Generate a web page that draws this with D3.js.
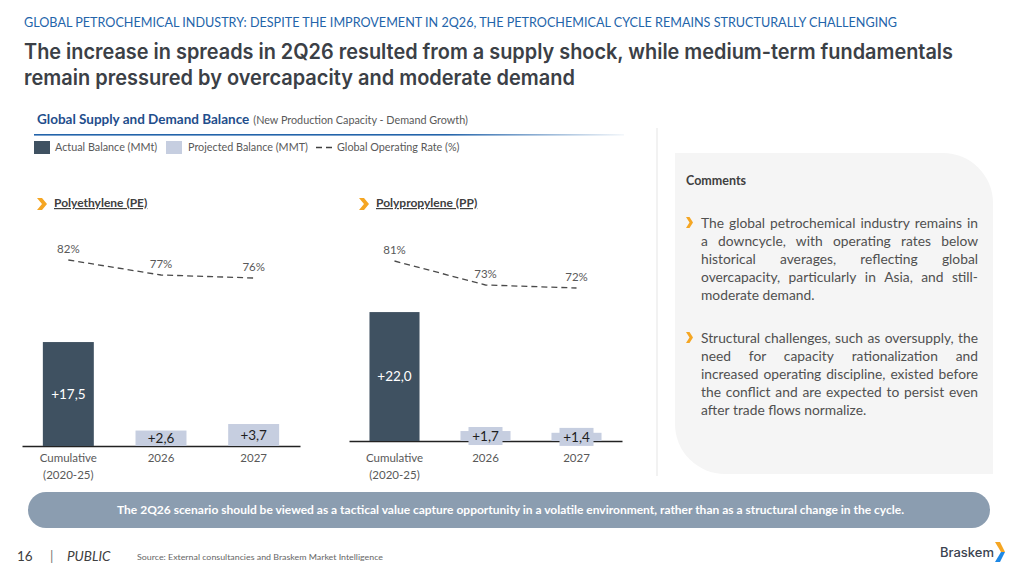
<!DOCTYPE html>
<html>
<head>
<meta charset="utf-8">
<script src="https://cdn.jsdelivr.net/npm/d3@7"></script>
<style>
  body { margin: 0; background: #fff; }
  svg { display: block; font-family: Lato, "Open Sans", sans-serif; }
</style>
</head>
<body>
<div id="chart"></div>
<script>
// chart values
var categories = ["Cumulative|(2020-25)", "2026", "2027"];
var barKinds = ["actual", "projected", "projected"];
var peBalance = [17.5, 2.6, 3.7];
var ppBalance = [22.0, 1.7, 1.4];
var peRate = [82, 77, 76];
var ppRate = [81, 73, 72];
var legendLabels = ["Actual Balance (MMt)", "Projected Balance (MMT)", "Global Operating Rate (%)"];

var comments = [
    ["The global petrochemical industry remains in",
     "a downcycle, with operating rates below",
     "historical averages, reflecting global",
     "overcapacity, particularly in Asia, and still-",
     "moderate demand."],
    ["Structural challenges, such as oversupply, the",
     "need for capacity rationalization and",
     "increased operating discipline, existed before",
     "the conflict and are expected to persist even",
     "after trade flows normalize."]
];

var W = 1019, H = 573;
var colors = {actual: "#3f5161", projected: "#c6cee0", text: "#404040", grey: "#595959", blue: "#1f4e8c"};
var fmt = function(v) { return "+" + d3.format(".1f")(v).replace(".", ","); };

var svg = d3.select("#chart").append("svg").attr("width", W).attr("height", H);

// ---- header
svg.append("text")
    .attr("x", 24).attr("y", 27)
    .attr("font-size", 13).attr("fill", "#2364aa")
    .attr("textLength", 873).attr("lengthAdjust", "spacingAndGlyphs")
    .text("GLOBAL PETROCHEMICAL INDUSTRY: DESPITE THE IMPROVEMENT IN 2Q26, THE PETROCHEMICAL CYCLE REMAINS STRUCTURALLY CHALLENGING");

var titleLines = [
    {t: "The increase in spreads in 2Q26 resulted from a supply shock, while medium-term fundamentals", y: 59, w: 929},
    {t: "remain pressured by overcapacity and moderate demand", y: 85, w: 551}
];
svg.selectAll(".title").data(titleLines).enter().append("text")
    .attr("class", "title")
    .attr("x", 24).attr("y", function(d) { return d.y; })
    .attr("font-family", "Inter, sans-serif")
    .attr("font-size", 21).attr("font-weight", 600).attr("fill", "#3b4046")
    .attr("textLength", function(d) { return d.w; }).attr("lengthAdjust", "spacingAndGlyphs")
    .text(function(d) { return d.t; });

var sub = svg.append("text").attr("x", 37).attr("y", 124);
sub.append("tspan").attr("font-size", 13.5).attr("font-weight", 700).attr("fill", colors.blue)
    .text("Global Supply and Demand Balance");
sub.append("tspan").attr("font-size", 10.8).attr("fill", colors.grey).attr("dx", 4)
    .text("(New Production Capacity - Demand Growth)");

var grad = svg.append("defs").append("linearGradient").attr("id", "rule");
grad.append("stop").attr("offset", "0%").attr("stop-color", "#2364aa");
grad.append("stop").attr("offset", "70%").attr("stop-color", "#2364aa");
grad.append("stop").attr("offset", "100%").attr("stop-color", "#2364aa").attr("stop-opacity", 0.05);
svg.append("rect").attr("x", 34).attr("y", 134).attr("width", 590).attr("height", 1.6).attr("fill", "url(#rule)");

// ---- legend
var lg = svg.append("g").attr("font-size", 10.8).attr("fill", colors.grey);
lg.append("rect").attr("x", 34).attr("y", 141).attr("width", 16).attr("height", 13).attr("fill", colors.actual);
lg.append("text").attr("x", 55).attr("y", 151).text(legendLabels[0]);
lg.append("rect").attr("x", 166).attr("y", 141).attr("width", 16).attr("height", 13).attr("fill", colors.projected);
lg.append("text").attr("x", 188).attr("y", 151).text(legendLabels[1]);
lg.append("line").attr("x1", 316).attr("x2", 333).attr("y1", 147.5).attr("y2", 147.5)
    .attr("stroke", "#404040").attr("stroke-width", 1.3).attr("stroke-dasharray", "6,4");
lg.append("text").attr("x", 337).attr("y", 151).text(legendLabels[2]);

function chevron(g, x, y, w, h, fill) {
    var t = w * 0.5;
    g.append("path")
        .attr("d", "M" + x + "," + y + "L" + (x + t) + "," + y + "L" + (x + w) + "," + (y + h / 2) +
            "L" + (x + t) + "," + (y + h) + "L" + x + "," + (y + h) + "L" + (x + w - t) + "," + (y + h / 2) + "Z")
        .attr("fill", fill);
}

// ---- bar panels
var panels = [
    {title: "Polyethylene (PE)", balance: peBalance, rate: peRate, x0: 22, x1: 300, base: 446, unit: 5.94, rateTop: 251, titleX: 37},
    {title: "Polypropylene (PP)", balance: ppBalance, rate: ppRate, x0: 349, x1: 622, base: 441, unit: 5.86, rateTop: 249, titleX: 359}
];

panels.forEach(function(p) {
    var g = svg.append("g");
    var data = categories.map(function(c, i) {
        return {cat: c, value: p.balance[i], rate: p.rate[i], kind: barKinds[i]};
    });

    var x = d3.scaleBand().domain(categories).range([p.x0, p.x1]).paddingInner(0.45).paddingOuter(0.225);
    var y = d3.scaleLinear().domain([0, 25]).range([p.base, p.base - 25 * p.unit]);
    var yr = d3.scaleLinear().domain([70, 85]).range([p.rateTop + 45, p.rateTop]);
    var cx = function(d) { return x(d.cat) + x.bandwidth() / 2; };

    chevron(g, p.titleX, 198, 10, 12, "#f5a623");
    g.append("text").attr("x", p.titleX + 17).attr("y", 207)
        .attr("font-size", 12).attr("font-weight", 700).attr("fill", colors.text)
        .attr("text-decoration", "underline").text(p.title);

    // axis line
    var xAxis = d3.axisBottom(x).tickSize(0).tickFormat("");
    g.append("g").attr("transform", "translate(0," + p.base + ")").call(xAxis)
        .select(".domain").attr("stroke", "#222").attr("stroke-width", 1.3);

    g.selectAll(".bar").data(data).enter().append("rect")
        .attr("x", function(d) { return x(d.cat); })
        .attr("y", function(d) { return y(d.value); })
        .attr("width", x.bandwidth())
        .attr("height", function(d) { return y(0) - y(d.value); })
        .attr("fill", function(d) { return colors[d.kind]; });

    var lab = g.selectAll(".blab").data(data).enter().append("g")
        .attr("transform", function(d) { return "translate(" + cx(d) + "," + (y(d.value / 2)) + ")"; });
    // small bars get a label box so the value stays readable
    lab.filter(function(d) { return d.kind === "projected" && y(0) - y(d.value) < 14; }).append("rect")
        .attr("x", -17).attr("y", -9).attr("width", 34).attr("height", 18)
        .attr("fill", colors.projected);
    lab.append("text").attr("text-anchor", "middle").attr("dy", "0.36em")
        .attr("font-size", 13.5)
        .attr("fill", function(d) { return d.kind === "actual" ? "#fff" : "#1e1e1e"; })
        .text(function(d) { return fmt(d.value); });

    // category labels
    g.selectAll(".cat").data(data).enter().append("text")
        .attr("text-anchor", "middle").attr("font-size", 11.5).attr("fill", colors.grey)
        .attr("x", cx).attr("y", 462)
        .each(function(d) {
            var t = d3.select(this);
            d.cat.split("|").forEach(function(s, i) {
                t.append("tspan").attr("x", cx(d)).attr("dy", i ? 17 : 0).text(s);
            });
        });

    // operating rate dashed line
    var line = d3.line().x(cx).y(function(d) { return yr(d.rate); });
    g.append("path").datum(data).attr("d", line)
        .attr("fill", "none").attr("stroke", "#4a4a4a").attr("stroke-width", 1.3)
        .attr("stroke-dasharray", "6,4");
    g.selectAll(".rlab").data(data).enter().append("text")
        .attr("text-anchor", "middle").attr("font-size", 11.5).attr("fill", colors.grey)
        .attr("x", cx).attr("y", function(d) { return yr(d.rate) - 7; })
        .text(function(d) { return d.rate + "%"; });
});

// ---- comments panel
svg.append("line").attr("x1", 657).attr("x2", 657).attr("y1", 128).attr("y2", 476)
    .attr("stroke", "#eeeeee").attr("stroke-width", 1.5);
svg.append("path")
    .attr("d", "M675,153H943A50,50 0 0 1 993,203V474H725A50,50 0 0 1 675,424Z")
    .attr("fill", "#f5f5f5");
svg.append("text").attr("x", 686).attr("y", 185)
    .attr("font-size", 12.5).attr("font-weight", 700).attr("fill", colors.text).text("Comments");

var textX = 701, textW = 277, lineH = 18;
var starts = [228, 343];
comments.forEach(function(lines, b) {
    var g = svg.append("g");
    chevron(g, 686, starts[b] - 11, 7, 11, "#f5a623");
    lines.forEach(function(ln, i) {
        var yy = starts[b] + i * lineH;
        var words = ln.split(" ");
        var last = i === lines.length - 1;
        var t = g.append("text").attr("y", yy).attr("font-size", 13.8).attr("fill", "#505050");
        var spans = words.map(function(w) { return t.append("tspan").text(w); });
        var widths = spans.map(function(s) { return s.node().getComputedTextLength(); });
        var total = d3.sum(widths);
        var gap = last ? 3.5 : (textW - total) / (words.length - 1);
        var cur = textX;
        spans.forEach(function(s, k) {
            s.attr("x", cur);
            cur += widths[k] + gap;
        });
    });
});

// ---- conclusion pill
svg.append("rect").attr("x", 28).attr("y", 492).attr("width", 962).attr("height", 36)
    .attr("rx", 18).attr("fill", "#8b9db0");
svg.append("text").attr("x", 117).attr("y", 514)
    .attr("font-size", 11).attr("font-weight", 700).attr("fill", "#fff")
    .attr("textLength", 787).attr("lengthAdjust", "spacingAndGlyphs")
    .text("The 2Q26 scenario should be viewed as a tactical value capture opportunity in a volatile environment, rather than as a structural change in the cycle.");

// ---- footer
var ft = svg.append("g").attr("fill", colors.text);
ft.append("text").attr("x", 17).attr("y", 561).attr("font-size", 13.5).text("16");
ft.append("text").attr("x", 50).attr("y", 561).attr("font-size", 13.5).attr("fill", "#777").text("|");
ft.append("text").attr("x", 67).attr("y", 561).attr("font-size", 13.5).attr("font-style", "italic").text("PUBLIC");
ft.append("text").attr("x", 137).attr("y", 560).attr("font-size", 8).attr("fill", "#666")
    .attr("textLength", 246).attr("lengthAdjust", "spacingAndGlyphs")
    .text("Source: External consultancies and Braskem Market Intelligence");

ft.append("text").attr("x", 940).attr("y", 557).attr("font-family", "Inter, sans-serif")
    .attr("font-size", 12.5).attr("font-weight", 500).attr("fill", "#3b4350")
    .attr("textLength", 54).attr("lengthAdjust", "spacingAndGlyphs").text("Braskem");
ft.append("path").attr("d", "M995,542L1000,542L1005,552L1001,552Z").attr("fill", "#f5a623");
ft.append("path").attr("d", "M1001,552L1005,552L1000,562L995,562Z").attr("fill", "#1e88e5");
</script>
</body>
</html>
